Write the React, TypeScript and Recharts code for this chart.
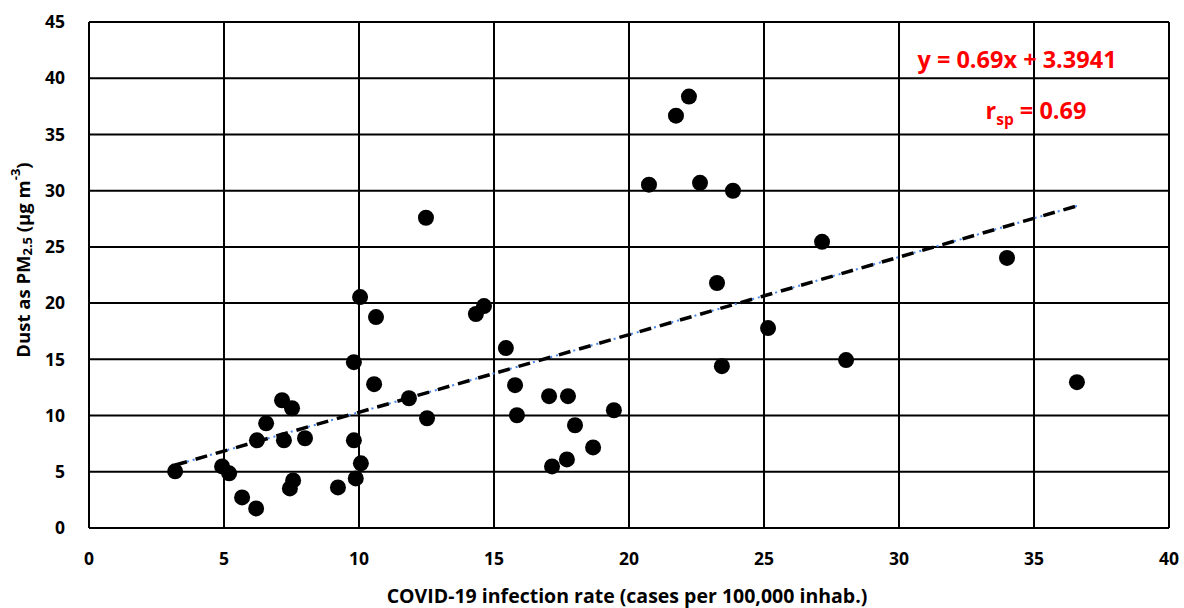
import { ScatterChart, Scatter, XAxis, YAxis, CartesianGrid, ReferenceLine, Label, Customized } from "recharts";

// infection rate (cases per 100,000) vs dust PM2.5 (µg m-3)
const INFECTION_RATE = [
  3.19, 4.93, 5.19, 5.67, 6.19, 6.22, 6.56, 7.15, 7.22, 7.52, 7.56, 7.44, 8.0, 9.22, 9.81, 9.81,
  9.88, 10.07, 10.04, 10.63, 10.56, 11.85, 12.48, 12.52, 14.33, 14.63, 15.44, 15.78, 15.85, 17.04,
  17.15, 17.74, 17.7, 18.0, 18.67, 19.44, 20.74, 21.74, 22.22, 22.63, 23.85, 23.26, 23.44, 25.15,
  27.15, 28.04, 34.0, 36.59,
];
const DUST_PM25 = [
  5.04, 5.48, 4.86, 2.72, 1.74, 7.8, 9.31, 11.36, 7.8, 10.65, 4.23, 3.52, 7.98, 3.61, 14.75, 7.8,
  4.41, 5.75, 20.54, 18.76, 12.79, 11.54, 27.59, 9.76, 19.03, 19.74, 16.0, 12.7, 10.03, 11.72,
  5.48, 11.72, 6.1, 9.14, 7.17, 10.47, 30.53, 36.67, 38.37, 30.7, 29.99, 21.79, 14.39, 17.78,
  25.45, 14.93, 24.02, 12.97,
];

const X_TICKS = [0, 5, 10, 15, 20, 25, 30, 35, 40];
const Y_TICKS = [0, 5, 10, 15, 20, 25, 30, 35, 40, 45];

// fitted line from the annotation
const SLOPE = 0.69;
const INTERCEPT = 3.3941;
const TREND_X = [3.2, 36.6];

const data = INFECTION_RATE.map((x, i) => ({ x, y: DUST_PM25[i] }));
const trend = TREND_X.map((x) => ({ x, y: SLOPE * x + INTERCEPT }));

const FONT = "'Open Sans', Lato, sans-serif";
const tickStyle = { fill: "#000", fontSize: 17.5, fontWeight: 700, fontFamily: FONT };

function YTitle(props: any) {
  const vb = props.viewBox;
  const cx = 22;
  const cy = vb.y + vb.height / 2 - 15;
  return (
    <text
      x={cx}
      y={cy}
      transform={`rotate(-90 ${cx} ${cy})`}
      textAnchor="middle"
      dominantBaseline="central"
      fontFamily={FONT}
      fontWeight={700}
      fontSize={18.5}
      fill="#000"
    >
      <tspan>Dust as PM</tspan>
      <tspan fontSize={13} dy={5}>2.5</tspan>
      <tspan dy={-5}> (µg m</tspan>
      <tspan fontSize={13} dy={-7}>-3</tspan>
      <tspan dy={7}>)</tspan>
    </text>
  );
}

function XTitle(props: any) {
  const vb = props.viewBox;
  return (
    <text
      x={vb.x + vb.width / 2 - 2}
      y={603}
      textAnchor="middle"
      fontFamily={FONT}
      fontWeight={700}
      fontSize={19.5}
      fill="#000"
    >
      COVID-19 infection rate (cases per 100,000 inhab.)
    </text>
  );
}

function FitText() {
  return (
    <g fontFamily={FONT} fontWeight={700} fill="#ff0000">
      <text x={1017} y={68} textAnchor="middle" fontSize={23.5}>
        y = 0.69x + 3.3941
      </text>
      <text x={1036} y={119} textAnchor="middle" fontSize={23.5}>
        <tspan>r</tspan>
        <tspan fontSize={15.5} dy={6}>sp</tspan>
        <tspan dy={-6}> = 0.69</tspan>
      </text>
    </g>
  );
}

const Dot = (props: any) => <circle cx={props.cx} cy={props.cy} r={8} fill="#000" />;

export default function App() {
  return (
    <div style={{ position: "absolute", left: 0, top: 0, background: "#fff", width: 1184, height: 608 }}>
      <ScatterChart width={1184} height={608} margin={{ top: 22, right: 15, bottom: 0, left: 0 }}>
        <CartesianGrid stroke="#000" strokeWidth={2} />
        <XAxis
          type="number"
          dataKey="x"
          domain={[0, 40]}
          ticks={X_TICKS}
          tickLine={false}
          tickSize={0}
          tickMargin={25}
          axisLine={{ stroke: "#000", strokeWidth: 2 }}
          tick={tickStyle}
          height={80}
        >
          <Label content={XTitle} />
        </XAxis>
        <YAxis
          type="number"
          dataKey="y"
          domain={[0, 45]}
          ticks={Y_TICKS}
          tickLine={false}
          tickSize={0}
          tickMargin={24}
          axisLine={{ stroke: "#000", strokeWidth: 2 }}
          tick={tickStyle}
          width={89}
        >
          <Label content={YTitle} />
        </YAxis>
        <ReferenceLine
          segment={trend}
          stroke="#4a86e8"
          strokeWidth={2}
          strokeDasharray="2 4"
          ifOverflow="visible"
        />
        <ReferenceLine
          segment={trend}
          stroke="#000"
          strokeWidth={3.5}
          strokeDasharray="12 9"
          ifOverflow="visible"
        />
        <Scatter data={data} shape={Dot} isAnimationActive={false} />
        <Customized component={FitText} />
      </ScatterChart>
    </div>
  );
}
